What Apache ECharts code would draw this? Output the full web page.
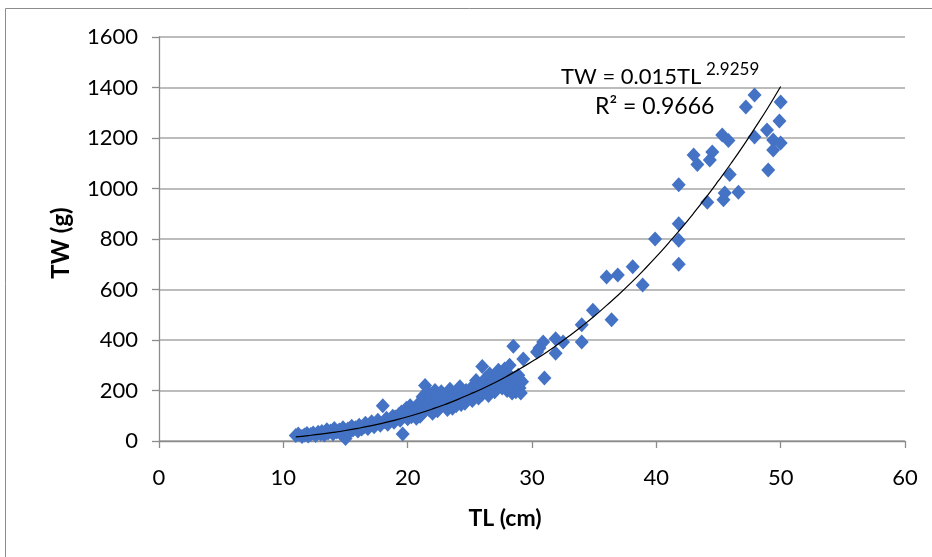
<!DOCTYPE html>
<html><head><meta charset="utf-8">
<script src="https://cdn.jsdelivr.net/npm/echarts@6/dist/echarts.min.js"></script>
<style>html,body{margin:0;padding:0;background:#fff}#c{width:932px;height:557px}</style>
</head><body><div id="c"></div>
<script>
// observed data: total length (cm) and total weight (g)
const tlValues = [
 11.0,11.2,11.5,11.7,11.9,12.0,12.2,12.4,12.6,12.8,13.0,13.1,13.3,13.5,13.6,13.8,14.0,14.1,14.3,14.5,14.6,14.8,15.0,15.0,15.2,15.3,15.5,15.6,15.8,16.0,
 16.1,16.3,16.5,16.6,16.8,17.0,17.1,17.3,17.5,17.6,17.8,18.0,18.1,18.3,18.4,18.6,18.8,18.9,19.0,19.1,19.3,19.4,19.5,19.6,19.7,19.9,20.0,20.1,
 20.2,20.3,20.5,20.6,20.7,20.8,20.9,21.0,21.1,21.2,21.3,21.4,21.5,21.6,21.7,21.8,21.9,22.0,22.1,22.2,22.3,22.4,22.5,22.6,22.7,22.8,23.0,23.1,23.2,23.3,23.4,23.5,23.6,23.8,23.9,24.0,24.1,24.2,24.3,24.5,24.6,24.7,24.8,25.0,25.1,
 25.2,25.3,25.4,25.5,25.6,25.7,25.8,26.0,26.0,26.2,26.3,26.4,26.5,26.6,26.7,26.8,26.9,27.0,27.1,27.2,27.3,27.4,27.5,27.6,27.7,27.8,27.9,28.0,28.1,28.2,28.3,28.4,28.5,28.5,28.6,28.7,28.8,28.9,29.0,29.0,29.1,29.2,29.3,
 30.4,30.6,30.9,31.0,31.9,31.9,32.5,34.0,34.0,34.9,36.0,36.4,36.9,38.1,38.9,39.9,41.8,41.8,41.8,41.8,
 43.0,43.3,44.1,44.3,44.5,45.3,45.4,45.5,45.8,45.9,46.6,47.2,47.9,47.9,48.9,49.0,49.4,49.4,50.0,49.9,50.0
];
const twValues = [
 22,28,18,24,30,20,26,32,22,35,28,38,24,45,32,40,28,50,36,44,30,52,40,10,48,35,58,44,52,40,
 62,48,56,70,50,64,76,56,70,82,62,140,76,90,66,84,98,74,95,92,105,82,115,28,100,130,88,112,
 140,96,120,104,90,130,150,98,140,175,115,220,190,150,125,185,160,110,140,200,170,120,130,155,195,180,140,165,125,150,205,185,130,175,140,160,195,215,145,180,150,200,165,190,210,
 160,175,215,240,200,170,220,295,185,230,250,205,180,265,230,215,245,195,225,260,280,240,270,210,250,285,215,200,265,300,240,190,375,215,250,195,230,260,210,245,190,235,325,
 352,368,392,250,405,348,392,392,460,518,650,480,657,690,618,800,700,795,860,1015,
 1133,1095,946,1113,1145,1212,955,982,1190,1055,985,1323,1370,1204,1232,1073,1192,1152,1343,1267,1180
];
// fitted power trendline TW = 0.015 TL^2.9259
const trendTL = [11,12,13,14,15,16,17,18,19,20,21,22,23,24,25,26,27,28,29,30,31,32,33,34,35,36,37,38,39,40,41,42,43,44,45,46,47,48,49,50];
const trendTW = [16.7,21.6,27.2,33.9,41.5,50.1,59.7,70.6,82.7,96,110.8,127,144.6,163.9,185,207,231,257,285,315,346,380,416,454,494,537,581,628,678,730,785,842,902,965,1031,1099,1170,1245,1322,1404];
const xAxisName = 'TL (cm)';
const yAxisName = 'TW (g)';
const eqMain = 'TW = 0.015TL';
const eqExp = '2.9259';
const eqR2 = 'R² = 0.9666';

const FONT = 'Lato';
const chart = echarts.init(document.getElementById('c'), null, {renderer:'canvas'});
const pts = tlValues.map((v,i)=>[v, twValues[i]]);
const trend = trendTL.map((v,i)=>[v, trendTW[i]]);
chart.setOption({
  animation:false,
  backgroundColor:'#fff',
  grid:{left:159, right:27, top:37, bottom:116, containLabel:false},
  xAxis:{type:'value', min:0, max:60, interval:10,
    axisLine:{show:true, onZero:false, lineStyle:{color:'#8c8c8c', width:1.3}},
    axisTick:{show:true, inside:false, length:7, lineStyle:{color:'#8c8c8c', width:1.3}},
    axisLabel:{fontFamily:FONT, fontSize:22, color:'#000', margin:26},
    splitLine:{show:false}},
  yAxis:{type:'value', min:0, max:1600, interval:200,
    axisLine:{show:true, lineStyle:{color:'#8c8c8c', width:1.3}},
    axisTick:{show:true, inside:false, length:7, lineStyle:{color:'#8c8c8c', width:1.3}},
    axisLabel:{fontFamily:FONT, fontSize:22, color:'#000', margin:21, formatter:v=>String(v)},
    splitLine:{show:true, lineStyle:{color:'#a6a6a6', width:1.5}}},
  series:[
    {type:'scatter', data:pts, symbol:'diamond', symbolSize:[14,15],
     itemStyle:{color:'#4472C4', opacity:1}, z:2},
    {type:'line', data:trend, showSymbol:false, symbol:'none', smooth:true,
     lineStyle:{color:'#000', width:1.2}, z:3}
  ],
  graphic:[
    {type:'rect', shape:{x:5.5, y:8.5, width:1000, height:1000}, style:{fill:'none', stroke:'#8c8c8c', lineWidth:1}, z:-1, silent:true},
    {type:'text', x:505, y:519, style:{text:xAxisName, fontFamily:FONT, fontSize:23, fontWeight:'bold', fill:'#000', align:'center', verticalAlign:'middle'}},
    {type:'text', x:61, y:243, rotation:Math.PI/2, style:{text:yAxisName, fontFamily:FONT, fontSize:24, fontWeight:'bold', fill:'#000', align:'center', verticalAlign:'middle'}},
    {type:'text', x:561, y:77, style:{text:eqMain, fontFamily:FONT, fontSize:22, fill:'#000', align:'left', verticalAlign:'middle'}},
    {type:'text', x:706, y:70, style:{text:eqExp, fontFamily:FONT, fontSize:17, fill:'#000', align:'left', verticalAlign:'middle'}},
    {type:'text', x:595, y:107, style:{text:eqR2, fontFamily:FONT, fontSize:23, fill:'#000', align:'left', verticalAlign:'middle'}}
  ]
});
</script></body></html>
